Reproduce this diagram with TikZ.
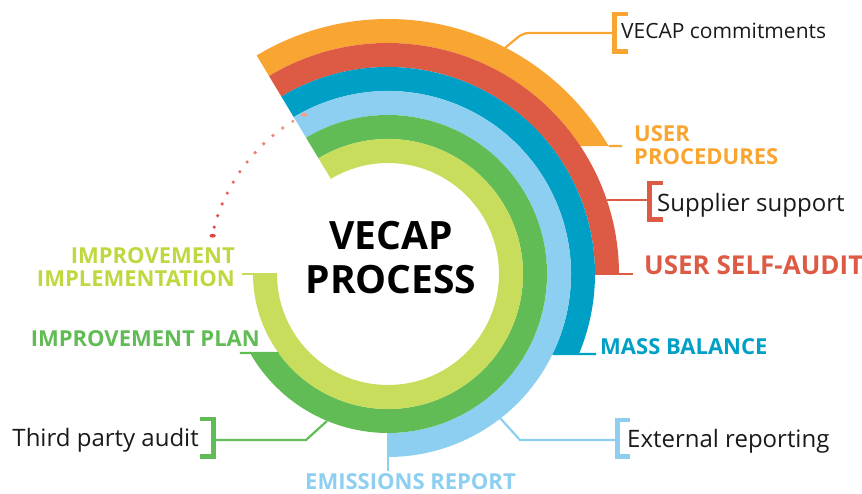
\documentclass[tikz,border=0pt]{standalone}
\usepackage{fontspec}
\setmainfont{Open Sans}
\definecolor{cO}{HTML}{F8A532}
\definecolor{cR}{HTML}{DD5B45}
\definecolor{cB}{HTML}{00A0C6}
\definecolor{cLB}{HTML}{8DCFF0}
\definecolor{cG}{HTML}{62BC56}
\definecolor{cYG}{HTML}{C9DD5C}
\definecolor{cYGt}{HTML}{C0D740}
\definecolor{cDot}{HTML}{E2433A}
\definecolor{cDotB}{HTML}{F0A08E}
\definecolor{cTxt}{HTML}{1A1A1A}
\begin{document}
\begin{tikzpicture}[x=1pt,y=1pt,
  lbl/.style={font=\bfseries\fontsize{22}{23}\selectfont, inner sep=0pt},
  biglbl/.style={font=\bfseries\fontsize{26}{28}\selectfont, inner sep=0pt},
  txt/.style={font=\fontsize{24}{26}\selectfont, text=cTxt, inner sep=0pt},
  lead/.style={line width=2.2pt},
  brk/.style={line width=4.5pt, line join=miter}]
\useasboundingbox (-388,-220) rectangle (474,274);

% rings
\fill[cO] (121:255) arc[start angle=121,end angle=30.1,radius=255] -- (33.6:231) arc[start angle=33.6,end angle=121,radius=231] -- cycle;
\fill[cR] (121:231) arc[start angle=121,end angle=0,radius=231] -- (0:207) arc[start angle=0,end angle=121,radius=207] -- cycle;
\fill[cB] (121:207) arc[start angle=121,end angle=-22.7,radius=207] -- (-25.9:183) arc[start angle=-25.9,end angle=121,radius=183] -- cycle;
\fill[cLB] (121:183) arc[start angle=121,end angle=-90,radius=183] -- (-90:159) arc[start angle=-90,end angle=121,radius=159] -- cycle;
\fill[cG] (121:159) arc[start angle=121,end angle=-150.2,radius=159] -- (-144.2:135) arc[start angle=-144.2,end angle=121,radius=135] -- cycle;
\fill[cYG] (121:135) arc[start angle=121,end angle=-180,radius=135] -- (-180:111) arc[start angle=-180,end angle=121,radius=111] -- cycle;

% ring end coordinates
\coordinate (oEnd) at (30.1:255);
\coordinate (rEnd) at (0:207);
\coordinate (bEnd) at (-25.9:183);
\coordinate (lbEnd) at (-90:159);
\coordinate (gEnd) at (-144.2:135);
\coordinate (ygEnd) at (180:111);
\coordinate (oTip) at (234,128);
\coordinate (rTip) at (245,0);
\coordinate (bTip) at (208,-80);
\coordinate (lbTip) at (0,-197);
\coordinate (gTip) at (-148,-79);
\coordinate (ygTip) at (-146,0);

\draw[lead,cO] (oEnd) -- (oTip);
\draw[lead,cR] (rEnd) -- (rTip);
\draw[lead,cB] (bEnd) -- (bTip);
\draw[lead,cLB] (lbEnd) -- (lbTip);
\draw[lead,cG] (gEnd) -- (gTip);
\draw[lead,cYG] (ygEnd) -- (ygTip);

% leaders to bracketed notes
\coordinate (oc0) at (62.6:255);
\coordinate (oc1) at (135,241);
\coordinate (ocB) at (226,241);
\draw[lead,cO,rounded corners=6pt] (oc0) -- (oc1) -- (ocB);
\draw[brk,cO] (240,259.75) -- (226.25,259.75) -- (226.25,222.25) -- (240,222.25);

\coordinate (sp0) at (218.8,74);
\coordinate (spB) at (261,74);
\draw[lead,cR] (sp0) -- (spB);
\draw[brk,cR] (275,90.75) -- (261.5,90.75) -- (261.5,54.25) -- (275,54.25);

\coordinate (er0) at (112,-144);
\coordinate (er1) at (132,-166);
\coordinate (erB) at (229,-166);
\draw[lead,cLB] (er0) -- (er1) -- (erB);
\draw[brk,cLB] (242,-146.25) -- (229.25,-146.25) -- (229.25,-182.75) -- (242,-182.75);

\coordinate (tp0) at (-61,-147);
\coordinate (tp1) at (-82,-166);
\coordinate (tpB) at (-174,-166);
\draw[lead,cG] (tp0) -- (tp1) -- (tpB);
\draw[brk,cG] (-188,-145.25) -- (-174.25,-145.25) -- (-174.25,-182.75) -- (-188,-182.75);

% dotted arc
\fill[cDot] (167.7:179.5) ellipse[x radius=3.2, y radius=1.9];
\foreach \a/\p in {164.9/8,161.1/15,157.1/23,153.3/31,149.3/38,145.4/46,141.5/54,137.6/62,133.65/69,129.7/77,125.8/85,121.9/92}
  \fill[cDotB!\p!cDot] (\a:180) circle[radius=1.8];
\fill[cDotB] (117.8:180) ellipse[x radius=3.4, y radius=2];

% texts
\node[font=\bfseries\fontsize{39}{44}\selectfont, text=black, inner sep=0pt, align=center, anchor=base] (title) at (3,-20) {VECAP\\PROCESS};
\node[lbl, text=cO, anchor=base west, align=left] (userproc) at (246,109) {USER\\PROCEDURES};
\node[biglbl, text=cR, anchor=base west] (selfaudit) at (256,-1) {USER SELF-AUDIT};
\node[lbl, text=cB, anchor=base west] (massbal) at (212,-81) {MASS BALANCE};
\node[lbl, text=cLB, anchor=base] (emis) at (22.5,-215.5) {EMISSIONS REPORT};
\node[lbl, text=cG, anchor=base east] (impplan) at (-128,-73) {IMPROVEMENT PLAN};
\node[lbl, text=cYGt, anchor=base east, align=right] (impimpl) at (-153,-13) {IMPROVEMENT\\IMPLEMENTATION};
\node[txt, font=\fontsize{21}{23}\selectfont, anchor=base west] (commit) at (233,235) {VECAP commitments};
\node[txt, anchor=base west] (supp) at (269,62) {Supplier support};
\node[txt, anchor=base west] (ext) at (239,-174) {External reporting};
\node[txt, anchor=base east] (third) at (-189,-173) {Third party audit};
\end{tikzpicture}
\end{document}
